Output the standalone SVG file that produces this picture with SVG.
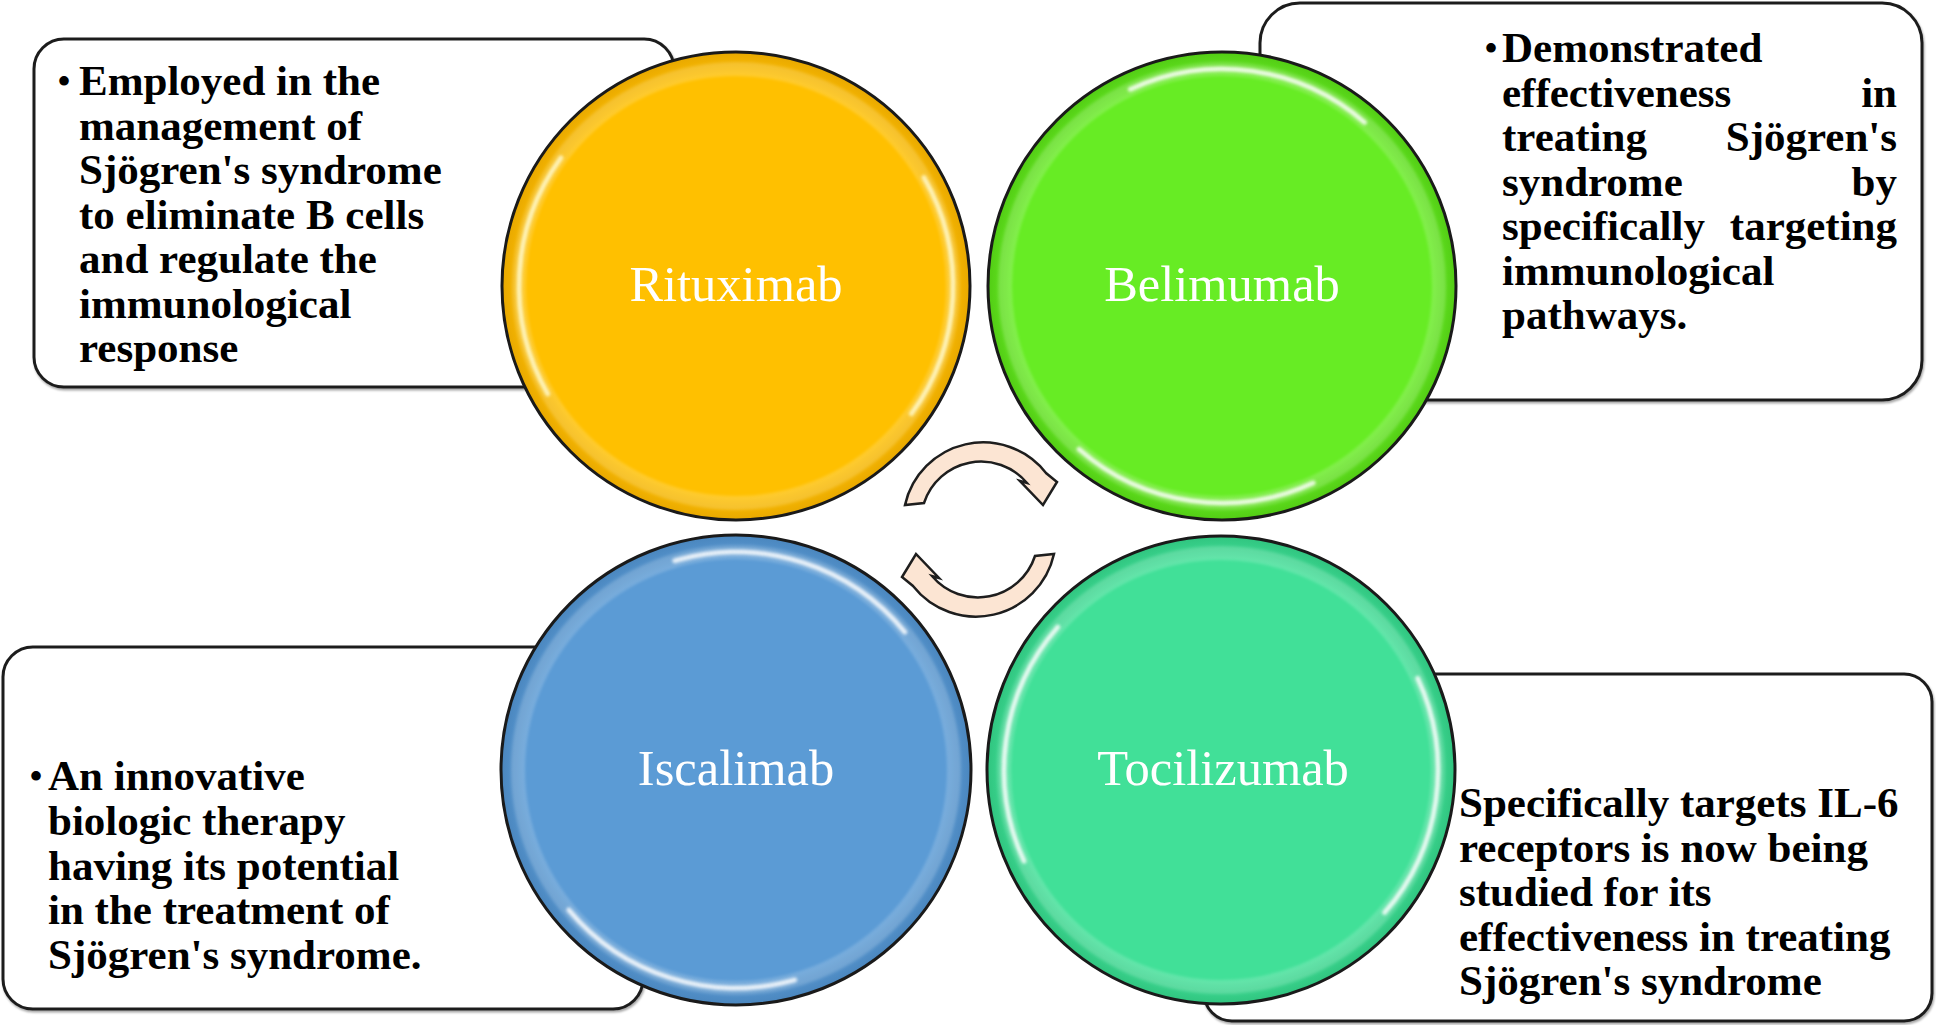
<svg xmlns="http://www.w3.org/2000/svg" width="1936" height="1025" viewBox="0 0 1936 1025">
<style>
.box{fill:#ffffff;stroke:#1e1e1e;stroke-width:3;filter:url(#sh)}
.disc{stroke:#1a1a1a;stroke-width:3}
.lbl{font-family:'Liberation Serif','Times New Roman',serif;font-size:50.5px;fill:#ffffff;text-anchor:middle}
.txt{font-family:'Liberation Serif','Times New Roman',serif;font-size:43px;font-weight:bold;fill:#000000}
.bul{font-family:'Liberation Serif','Times New Roman',serif;font-size:40px;fill:#000000}
.hl{fill:none;stroke:#ffffff;stroke-width:5;stroke-dasharray:250 432;stroke-linecap:round;opacity:0.85;filter:url(#bl)}
.band{fill:none;stroke:#ffffff;stroke-width:14;opacity:0.18;filter:url(#bl)}
.arr{fill:#FCE5D3;stroke:#1e1e1e;stroke-width:2.5;stroke-linejoin:miter}
</style>
<defs>
<filter id="sh" x="-5%" y="-5%" width="110%" height="110%">
<feDropShadow dx="1" dy="2" stdDeviation="1" flood-color="#000" flood-opacity="0.35"/>
</filter>
<filter id="bl" x="-10%" y="-10%" width="120%" height="120%">
<feGaussianBlur stdDeviation="1.6"/>
</filter>
<radialGradient id="gY"><stop offset="0" stop-color="#FFC000"/><stop offset="0.9" stop-color="#FFC000"/><stop offset="1" stop-color="#E8A800"/></radialGradient>
<radialGradient id="gG"><stop offset="0" stop-color="#67EC24"/><stop offset="0.9" stop-color="#67EC24"/><stop offset="1" stop-color="#52CC14"/></radialGradient>
<radialGradient id="gB"><stop offset="0" stop-color="#5B9BD5"/><stop offset="0.9" stop-color="#5B9BD5"/><stop offset="1" stop-color="#4A86BE"/></radialGradient>
<radialGradient id="gT"><stop offset="0" stop-color="#41E098"/><stop offset="0.9" stop-color="#41E098"/><stop offset="1" stop-color="#30C47F"/></radialGradient>
</defs>

<g id="rituximab">
<rect class="box" x="34" y="39" width="640" height="348" rx="30" ry="30"/>
<circle class="disc" cx="736" cy="286" r="234" fill="url(#gY)"/>
<circle class="band" cx="736" cy="286" r="217"/>
<circle class="hl" cx="736" cy="286" r="217" transform="rotate(-30 736 286)" style="stroke:#FFFBD0"/>
<text class="lbl" x="736" y="301">Rituximab</text>
<text class="bul" x="57" y="95">•</text>
<text class="txt" x="79" y="95">Employed in the</text>
<text class="txt" x="79" y="139.5">management of</text>
<text class="txt" x="79" y="184">Sjögren's syndrome</text>
<text class="txt" x="79" y="228.5">to eliminate B cells</text>
<text class="txt" x="79" y="273">and regulate the</text>
<text class="txt" x="79" y="317.5">immunological</text>
<text class="txt" x="79" y="362">response</text>
</g>

<g id="belimumab">
<rect class="box" x="1260" y="3" width="662" height="397" rx="40" ry="40"/>
<circle class="disc" cx="1222" cy="286" r="234" fill="url(#gG)"/>
<circle class="band" cx="1222" cy="286" r="217"/>
<circle class="hl" cx="1222" cy="286" r="217" transform="rotate(-115 1222 286)"/>
<text class="lbl" x="1222" y="301">Belimumab</text>
<text class="bul" x="1484" y="62">•</text>
<text class="txt" x="1502" y="62">Demonstrated</text>
<text class="txt" y="106.5"><tspan x="1502">effectiveness</tspan><tspan x="1897" text-anchor="end">in</tspan></text>
<text class="txt" y="151"><tspan x="1502">treating</tspan><tspan x="1897" text-anchor="end">Sjögren's</tspan></text>
<text class="txt" y="195.5"><tspan x="1502">syndrome</tspan><tspan x="1897" text-anchor="end">by</tspan></text>
<text class="txt" y="240"><tspan x="1502">specifically</tspan><tspan x="1897" text-anchor="end">targeting</tspan></text>
<text class="txt" x="1502" y="284.5">immunological</text>
<text class="txt" x="1502" y="329">pathways.</text>
</g>

<g id="iscalimab">
<rect class="box" x="3" y="647" width="640" height="362" rx="30" ry="30"/>
<circle class="disc" cx="736" cy="770" r="235" fill="url(#gB)"/>
<circle class="band" cx="736" cy="770" r="218"/>
<circle class="hl" cx="736" cy="770" r="218" transform="rotate(-105 736 770)"/>
<text class="lbl" x="736" y="785">Iscalimab</text>
<text class="bul" x="29" y="790">•</text>
<text class="txt" x="48" y="790">An innovative</text>
<text class="txt" x="48" y="834.75">biologic therapy</text>
<text class="txt" x="48" y="879.5">having its potential</text>
<text class="txt" x="48" y="924.25">in the treatment of</text>
<text class="txt" x="48" y="969">Sjögren's syndrome.</text>
</g>

<g id="tocilizumab">
<rect class="box" x="1204" y="674" width="728" height="347" rx="28" ry="28"/>
<circle class="disc" cx="1221" cy="770" r="234" fill="url(#gT)"/>
<circle class="band" cx="1221" cy="770" r="217"/>
<circle class="hl" cx="1221" cy="770" r="217" transform="rotate(-25 1221 770)"/>
<text class="lbl" x="1223" y="785">Tocilizumab</text>
<text class="txt" x="1459" y="817">Specifically targets IL-6</text>
<text class="txt" x="1459" y="861.5">receptors is now being</text>
<text class="txt" x="1459" y="906">studied for its</text>
<text class="txt" x="1459" y="950.5">effectiveness in treating</text>
<text class="txt" x="1459" y="995">Sjögren's syndrome</text>
</g>

<g id="connectors">
<path id="arrow-top" class="arr" d="M 905 505 A 80 80 0 0 1 1046 473 L 1057 482 L 1043 505 L 1020 481 L 1027 483 A 60 60 0 0 0 924 503 Z"/>
<path id="arrow-bottom" class="arr" d="M 905 505 A 80 80 0 0 1 1046 473 L 1057 482 L 1043 505 L 1020 481 L 1027 483 A 60 60 0 0 0 924 503 Z" transform="rotate(180 979.5 529.5)"/>
</g>
</svg>
